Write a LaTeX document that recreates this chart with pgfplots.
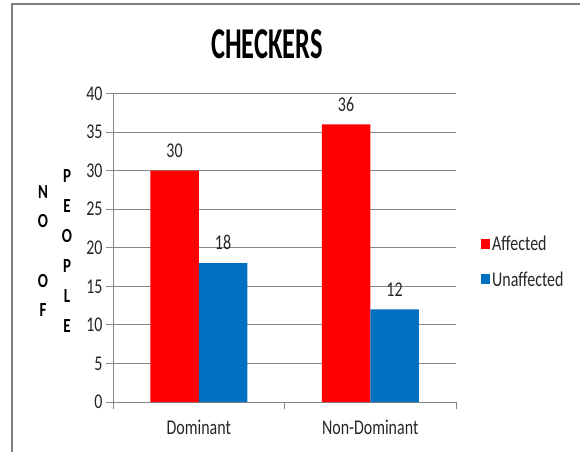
\documentclass[border=0pt]{standalone}
\usepackage{fontspec}
\setmainfont{Carlito}[FakeStretch=0.76]
\newfontfamily\titlefont{Carlito}[FakeStretch=0.6]
\newfontfamily\labfont{Carlito}[FakeStretch=0.75]
\usepackage{pgfplots}
\pgfplotsset{compat=1.18}
\definecolor{cRed}{RGB}{255,0,0}
\definecolor{cBlue}{RGB}{0,112,192}
\definecolor{cGrid}{RGB}{134,134,134}
\definecolor{cFrame}{RGB}{128,128,128}

\begin{document}
\begin{tikzpicture}[x=1pt,y=1pt]
\path[use as bounding box] (0,0) rectangle (580,-452);
\draw[cFrame, line width=2pt] (12,-452) -- (12,-4) -- (580,-4);

\begin{axis}[
  at={(113pt,-402pt)}, anchor=south west,
  scale only axis, width=343pt, height=308.5pt,
  /pgf/number format/assume math mode=true,
  ybar=0pt, bar width=48.5pt,
  xmin=-0.5, xmax=1.5, ymin=0, ymax=40,
  ytick={0,5,...,40},
  xtick={-0.5,0.5,1.5}, xticklabels={},
  extra x ticks={0,1}, extra x tick labels={Dominant,Non-Dominant},
  extra x tick style={major tick length=0pt, grid=none,
    tick label style={yshift=-15pt}},
  axis x line*=bottom, axis y line*=left,
  axis line style={-, cGrid, line width=0.8pt},
  ymajorgrids, grid style={cGrid, line width=0.8pt},
  tick style={cGrid, line width=0.8pt}, major tick length=7pt,
  tick align=outside,
  tick label style={font=\fontsize{21}{21}\selectfont, text=black!85},
  nodes near coords,
  every node near coord/.append style={anchor=south, inner sep=0pt,
    yshift=13pt, font=\fontsize{21}{21}\selectfont, text=black!85},
  legend style={at={(1.073,0.454)}, anchor=west, draw=none, fill=none,
    inner sep=0pt, row sep=15pt, font=\fontsize{21}{21}\selectfont,
    text=black!85},
  legend cell align=left,
  legend image code/.code={\fill[#1] (0pt,-5pt) rectangle (9pt,5pt);},
]
\addplot[fill=cRed, draw=none] coordinates {(0,30) (1,36)};
\addlegendentry{Affected}
\addplot[fill=cBlue, draw=none] coordinates {(0,18) (1,12)};
\addlegendentry{Unaffected}
\end{axis}

\node[anchor=base, font=\titlefont\bfseries\fontsize{44}{44}\selectfont]
  at (267,-58) {CHECKERS};
\foreach \l [count=\i] in {N,O,{},O,F}
  \node[anchor=base, inner sep=0pt, font=\labfont\bfseries\fontsize{20}{20}\selectfont]
    at (43,{-198-(\i-1)*29.7}) {\l};
\foreach \l [count=\i] in {P,E,O,P,L,E}
  \node[anchor=base, inner sep=0pt, font=\labfont\bfseries\fontsize{20}{20}\selectfont]
    at (67,{-182-(\i-1)*30}) {\l};
\end{tikzpicture}
\end{document}
